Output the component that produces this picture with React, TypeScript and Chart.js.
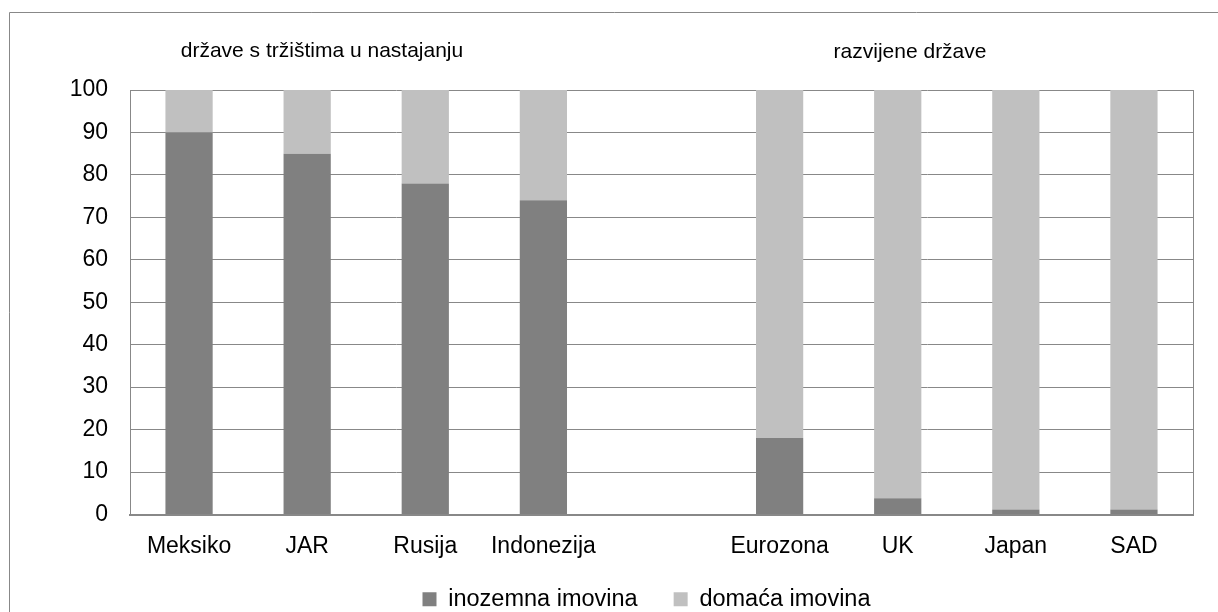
import React, { useEffect, useRef } from "react";
import { Chart, registerables } from "chart.js";

Chart.register(...registerables);

const categories = ["Meksiko", "JAR", "Rusija", "Indonezija", "", "Eurozona", "UK", "Japan", "SAD"];
const foreignAssets = [90, 85, 78, 74, null, 18, 3.8, 1.2, 1.2];
const domesticAssets = [10, 15, 22, 26, null, 82, 96.2, 98.8, 98.8];
const seriesNames = ["inozemna imovina", "domaća imovina"];
const groupLabels = ["države s tržištima u nastajanju", "razvijene države"];
const yTicks = [0, 10, 20, 30, 40, 50, 60, 70, 80, 90, 100];

const FONT = "'Liberation Sans', Arial, sans-serif";

const decorPlugin = {
  id: "decor",
  afterLayout(chart: any) {
    const lg = chart.legend;
    if (lg) {
      lg.left += 45;
      lg.right += 45;
      lg.top -= 16;
      lg.bottom -= 16;
    }
  },
  beforeDraw(chart: any) {
    const ctx = chart.ctx;
    ctx.save();
    ctx.fillStyle = "#ffffff";
    ctx.fillRect(0, 0, chart.width, chart.height);
    ctx.strokeStyle = "#888888";
    ctx.lineWidth = 1;
    ctx.beginPath();
    ctx.moveTo(9.5, chart.height + 5);
    ctx.lineTo(9.5, 12.5);
    ctx.lineTo(chart.width + 5, 12.5);
    ctx.stroke();
    ctx.restore();
  },
  afterDraw(chart: any) {
    const ctx = chart.ctx;
    const a = chart.chartArea;
    ctx.save();
    ctx.strokeStyle = "#888888";
    ctx.lineWidth = 1;
    ctx.beginPath();
    ctx.moveTo(Math.round(a.right) + 0.5, a.top);
    ctx.lineTo(Math.round(a.right) + 0.5, a.bottom);
    ctx.stroke();
    ctx.fillStyle = "#000000";
    ctx.font = `21px ${FONT}`;
    ctx.textAlign = "center";
    ctx.textBaseline = "alphabetic";
    const w = a.right - a.left;
    ctx.fillText(groupLabels[0], a.left + w * 0.1806, 57);
    ctx.fillText(groupLabels[1], a.left + w * 0.7338, 58);
    ctx.restore();
  },
};

export default function App() {
  const ref = useRef<HTMLCanvasElement | null>(null);
  useEffect(() => {
    if (!ref.current) return;
    Chart.defaults.font.family = FONT;
    Chart.defaults.color = "#000000";
    const chart = new Chart(ref.current, {
      type: "bar",
      data: {
        labels: categories,
        datasets: [
          {
            label: seriesNames[0],
            data: foreignAssets as any,
            backgroundColor: "#808080",
            borderWidth: 0,
            barPercentage: 0.4,
            categoryPercentage: 1,
          },
          {
            label: seriesNames[1],
            data: domesticAssets as any,
            backgroundColor: "#c0c0c0",
            borderWidth: 0,
            barPercentage: 0.4,
            categoryPercentage: 1,
          },
        ],
      },
      options: {
        responsive: false,
        animation: false,
        layout: { padding: { left: 10, right: 25, top: 90, bottom: -25 } },
        plugins: {
          legend: {
            position: "bottom",
            labels: {
              boxWidth: 14,
              boxHeight: 14,
              padding: 36,
              font: { size: 23.5 },
              color: "#000000",
            },
          },
          tooltip: { enabled: false },
          title: { display: false },
        },
        scales: {
          x: {
            stacked: true,
            grid: { display: false, drawTicks: false },
            border: { display: true, color: "#888888", width: 2 },
            ticks: { font: { size: 23 }, padding: 18, color: "#000000", maxRotation: 0, autoSkip: false },
            afterFit(scale: any) {
              scale.height = 53;
            },
          },
          y: {
            stacked: true,
            min: 0,
            max: 100,
            afterBuildTicks(scale: any) {
              scale.ticks = yTicks.map((v) => ({ value: v }));
            },
            grid: { color: "#888888", lineWidth: 1, drawTicks: false },
            border: { display: true, color: "#888888", width: 1 },
            ticks: { font: { size: 23 }, padding: 22, color: "#000000" },
            afterFit(scale: any) {
              scale.width = 120;
            },
          },
        },
      },
      plugins: [decorPlugin],
    });
    return () => chart.destroy();
  }, []);
  return (
    <div style={{ position: "absolute", left: 0, top: 0, width: 1218, height: 612 }}>
      <canvas ref={ref} width={1218} height={612} />
    </div>
  );
}
